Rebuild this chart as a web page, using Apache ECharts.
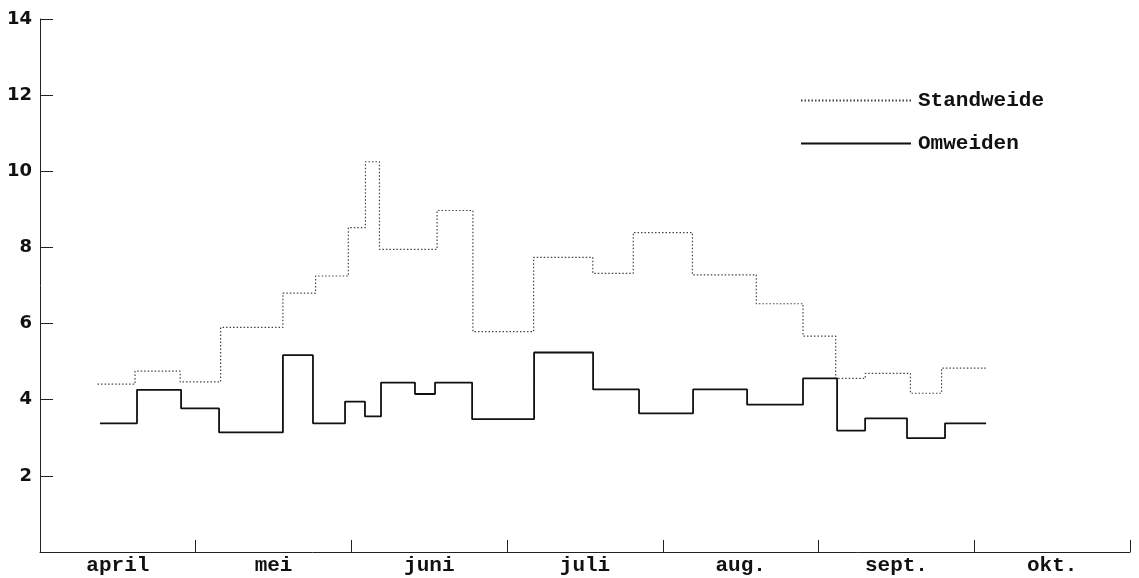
<!DOCTYPE html>
<html>
<head>
<meta charset="utf-8">
<script src="https://cdn.jsdelivr.net/npm/echarts@6/dist/echarts.min.js"></script>
<style>
    html, body { margin: 0; padding: 0; background: #fff; }
    #chart { width: 1139px; height: 578px; }
</style>
</head>
<body>
<div id="chart"></div>
<script>
// maanden (as loopt in maand-eenheden, 0 = begin april)
var months = ['april', 'mei', 'juni', 'juli', 'aug.', 'sept.', 'okt.'];

// standweide: grenzen van de perioden en waarden per periode
var standEdges = [0.37, 0.61, 0.90, 1.16, 1.56, 1.77, 1.98, 2.09, 2.18, 2.55, 2.78,
    3.17, 3.55, 3.81, 4.19, 4.60, 4.90, 5.11, 5.30, 5.59, 5.79, 6.08];
var standVals = [4.41, 4.75, 4.47, 5.9, 6.8, 7.25, 8.52, 10.25, 7.95, 8.97, 5.79,
    7.74, 7.32, 8.39, 7.28, 6.52, 5.67, 4.56, 4.69, 4.17, 4.83];

// omweiden
var omEdges = [0.385, 0.623, 0.906, 1.15, 1.56, 1.753, 1.959, 2.087, 2.19, 2.408, 2.537,
    2.775, 3.173, 3.552, 3.847, 4.194, 4.541, 4.90, 5.119, 5.299, 5.568, 5.812, 6.076];
var omVals = [3.38, 4.26, 3.77, 3.14, 5.17, 3.38, 3.95, 3.56, 4.45, 4.15, 4.45,
    3.49, 5.24, 4.27, 3.64, 4.27, 3.87, 4.56, 3.19, 3.51, 2.99, 3.38];

var yTicks = [0, 2, 4, 6, 8, 10, 12, 14];

// bouw [x, y] paren voor step-lijn
function stepData(edges, vals) {
    var out = [];
    for (var i = 0; i < vals.length; i++) {
        out.push([edges[i], vals[i]]);
    }
    out.push([edges[edges.length - 1], vals[vals.length - 1]]);
    return out;
}

var chart = echarts.init(document.getElementById('chart'));
var mono = '"Liberation Mono", "DejaVu Sans Mono", monospace';

var option = {
    animation: false,
    backgroundColor: '#fff',
    grid: {
        left: 40,
        right: 9,
        top: 19,
        bottom: 26
    },
    legend: {
        orient: 'vertical',
        left: 795,
        top: 85,
        itemWidth: 110,
        itemHeight: 10,
        itemGap: 22,
        itemStyle: { opacity: 0 },
        textStyle: {
            fontFamily: mono,
            fontSize: 21,
            fontWeight: 'bold',
            color: '#111',
            padding: [0, 0, 0, 2]
        },
        data: ['Standweide', 'Omweiden']
    },
    xAxis: [{
        type: 'category',
        data: months,
        boundaryGap: true,
        axisLine: { lineStyle: { color: '#222', width: 1 } },
        axisTick: { show: true, interval: 0, alignWithLabel: false, inside: true, length: 12, lineStyle: { color: '#222' } },
        axisLabel: {
            interval: 0,
            fontFamily: mono,
            fontSize: 21,
            fontWeight: 'bold',
            color: '#111',
            margin: 3
        }
    }, {
        type: 'value',
        min: 0,
        max: 7,
        show: false
    }],
    yAxis: {
        type: 'value',
        min: yTicks[0],
        max: yTicks[yTicks.length - 1],
        interval: 2,
        axisLine: { show: true, lineStyle: { color: '#222', width: 1 } },
        axisTick: { show: true, inside: true, length: 13, lineStyle: { color: '#222' } },
        splitLine: { show: false },
        axisLabel: {
            fontFamily: '"DejaVu Sans", sans-serif',
            fontSize: 18,
            fontWeight: 'bold',
            color: '#111',
            margin: 8,
            formatter: function (v) { return v === 0 ? '' : v; }
        }
    },
    series: [{
        name: 'Standweide',
        type: 'line',
        xAxisIndex: 1,
        step: 'end',
        symbol: 'none',
        data: stepData(standEdges, standVals),
        lineStyle: { color: '#444', width: 1.2, type: [1.5, 2] },
        itemStyle: { color: '#444' }
    }, {
        name: 'Omweiden',
        type: 'line',
        xAxisIndex: 1,
        step: 'end',
        symbol: 'none',
        data: stepData(omEdges, omVals),
        lineStyle: { color: '#111', width: 1.8 },
        itemStyle: { color: '#111' }
    }]
};
chart.setOption(option);
</script>
</body>
</html>
